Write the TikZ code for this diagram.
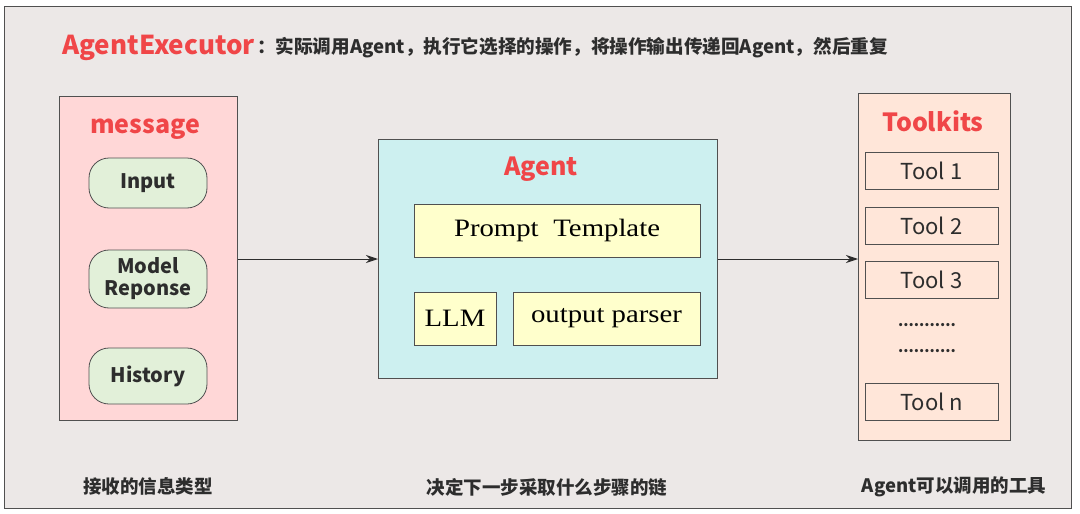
\documentclass[tikz,border=0pt]{standalone}
\usepackage{fontspec}
\newfontfamily\cjk{Noto Sans CJK SC}
\newfontfamily\serifb[FakeStretch=1.15]{Liberation Serif}
\usetikzlibrary{arrows.meta}
\definecolor{bgc}{RGB}{236,232,231}
\definecolor{framec}{RGB}{80,80,80}
\definecolor{redt}{RGB}{240,70,72}
\definecolor{darkt}{RGB}{45,45,45}
\definecolor{msgfill}{RGB}{255,215,215}
\definecolor{greenfill}{RGB}{226,240,217}
\definecolor{agentfill}{RGB}{205,240,240}
\definecolor{yellowfill}{RGB}{255,255,204}
\definecolor{toolfill}{RGB}{255,230,217}
\tikzset{
  panel/.style={draw=framec, line width=1pt, anchor=north west, inner sep=0pt},
  paneltitle/.style={text=redt, font=\cjk\bfseries\fontsize{25pt}{29pt}\selectfont},
  pill/.style={draw=framec, line width=0.8pt, fill=greenfill, rounded corners=20pt,
    minimum width=118pt, text=darkt, align=center,
    font=\cjk\bfseries\fontsize{20pt}{24pt}\selectfont},
  ybox/.style={draw=framec, line width=1pt, fill=yellowfill, minimum height=53pt,
    text=black, font=\serifb\fontsize{25pt}{30pt}\selectfont},
  toolbox/.style={draw=framec, line width=0.8pt, fill=toolfill, minimum width=133pt,
    minimum height=37pt, text=darkt, font=\cjk\fontsize{22pt}{26pt}\selectfont},
  caption/.style={text=darkt, font=\cjk\bfseries\fontsize{18.5pt}{22pt}\selectfont},
  conn/.style={draw=darkt, line width=1pt, -{Stealth[length=12pt,width=8pt]}}
}
\begin{document}
\begin{tikzpicture}[x=1pt,y=-1pt]
\fill[white] (0,0) rectangle (1080,514);
\useasboundingbox (0,0) rectangle (1080,514);
\draw[draw=framec, line width=1pt, fill=bgc] (4,6) rectangle (1071,508);

% title
\node[anchor=west, inner sep=0pt, text=redt, font=\cjk\bfseries\fontsize{26pt}{30pt}\selectfont] (title) at (62,48) {AgentExecutor};
\node[anchor=west, inner sep=0pt, text=darkt, font=\cjk\bfseries\fontsize{18.6pt}{22pt}\selectfont] (subtitle) at ([xshift=2pt]title.east) {：实际调用Agent，执行它选择的操作，将操作输出传递回Agent，然后重复};

% message panel
\node[panel, fill=msgfill, minimum width=178pt, minimum height=324pt] (msg) at (59,96) {};
\node[paneltitle] (msgt) at (145,129) {message};
\node[pill, minimum height=50pt] (input) at (148,183) {Input};
\node[pill, minimum height=58pt] (model) at (148,279) {Model\\[-2pt]Reponse};
\node[pill, minimum height=56pt] (hist) at (148,376) {History};

% agent panel
\node[panel, fill=agentfill, minimum width=339pt, minimum height=239pt] (agent) at (378,139) {};
\node[paneltitle] (agentt) at (541,169) {Agent};
\node[ybox, minimum width=286pt] (prompt) at (557,230.5) {Prompt\hspace{0.3em} Template};
\node[ybox, minimum width=82pt] (llm) at (455,318.5) {LLM};
\node[ybox, minimum width=187pt] (parser) at (606.5,318.5) {output parser};

% toolkits panel
\node[panel, fill=toolfill, minimum width=152pt, minimum height=347pt] (tk) at (858,93) {};
\node[paneltitle] (tkt) at (933,121) {Toolkits};
\node[toolbox] (t1) at (931.5,170.5) {Tool 1};
\node[toolbox] (t2) at (931.5,225.5) {Tool 2};
\node[toolbox] (t3) at (931.5,279.5) {Tool 3};
\node[text=darkt, font=\cjk\bfseries\fontsize{15pt}{16pt}\selectfont, inner sep=0pt] (d1) at (927,325) {...........};
\node[text=darkt, font=\cjk\bfseries\fontsize{15pt}{16pt}\selectfont, inner sep=0pt] (d2) at (927,351) {...........};
\node[toolbox] (tn) at (931.5,401.5) {Tool n};

% connectors
\draw[conn] (msg.east |- 0,259) coordinate (a1) -- (agent.west |- a1);
\draw[conn] (agent.east |- 0,259) coordinate (a2) -- (tk.west |- a2);

% captions
\node[caption] (c1) at (148,486) {接收的信息类型};
\node[caption] (c2) at (547,487) {决定下一步采取什么步骤的链};
\node[caption] (c3) at (954,487) {Agent可以调用的工具};
\end{tikzpicture}
\end{document}
